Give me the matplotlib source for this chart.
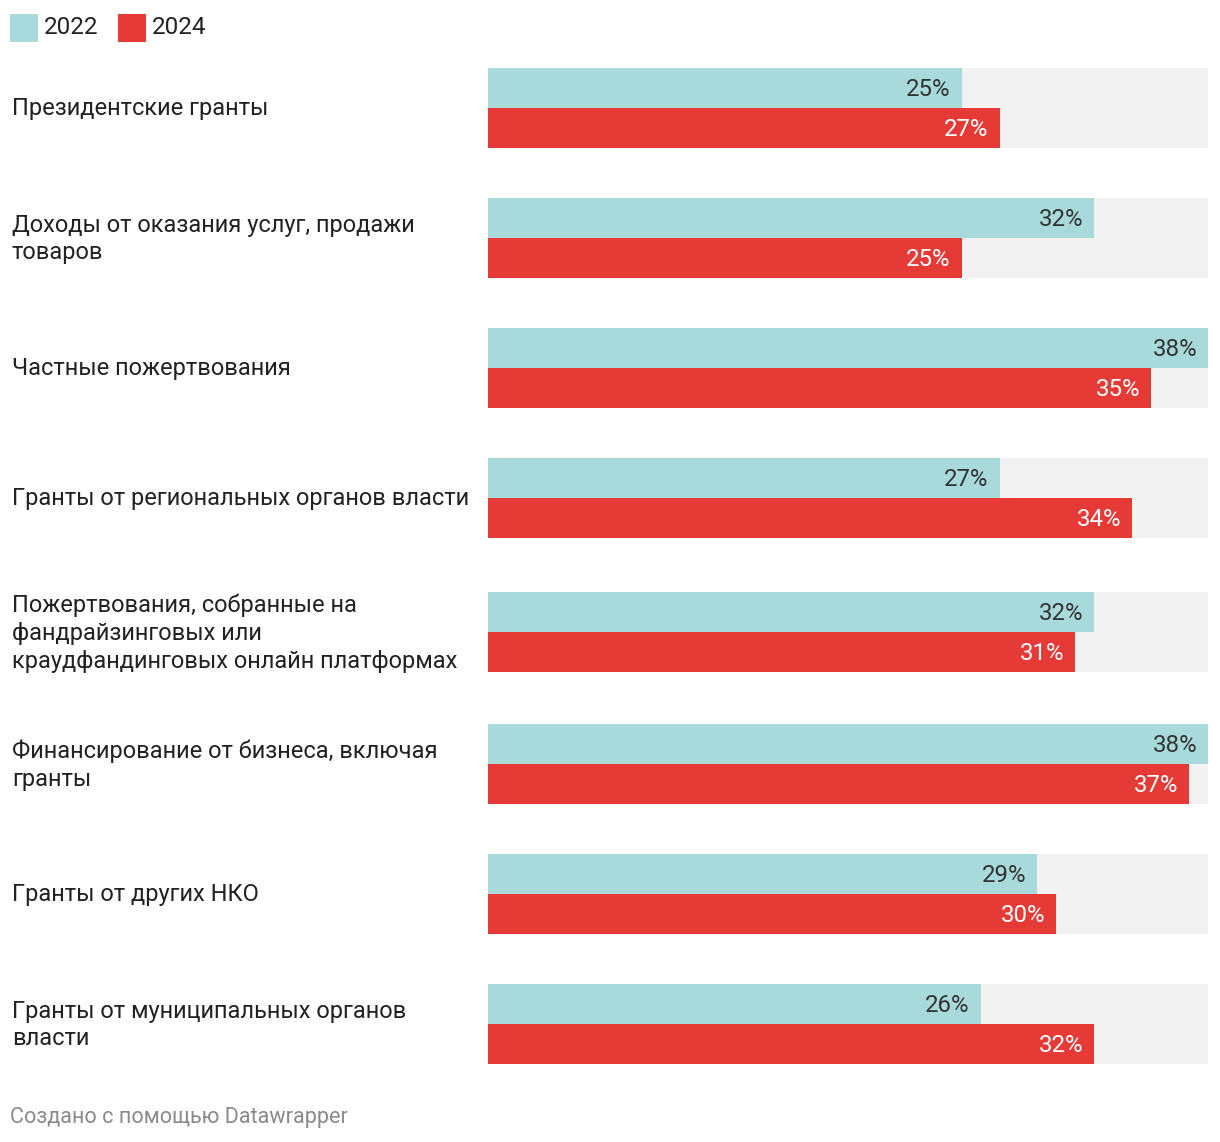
import matplotlib.pyplot as plt
from matplotlib.patches import Rectangle
from matplotlib.transforms import Affine2D

plt.rcParams['font.family'] = ['Roboto', 'DejaVu Sans']

categories = [
    "Президентские гранты",
    "Доходы от оказания услуг, продажи\nтоваров",
    "Частные пожертвования",
    "Гранты от региональных органов власти",
    "Пожертвования, собранные на\nфандрайзинговых или\nкраудфандинговых онлайн платформах",
    "Финансирование от бизнеса, включая\nгранты",
    "Гранты от других НКО",
    "Гранты от муниципальных органов\nвласти",
]
v2022 = [25, 32, 38, 27, 32, 38, 29, 26]
v2024 = [27, 25, 35, 34, 31, 37, 30, 32]
years = ["2022", "2024"]

c22 = '#a8dadc'
c24 = '#e63a36'
grey = '#f2f2f2'

W, H = 1220, 1142
fig = plt.figure(figsize=(W / 100, H / 100), dpi=100)
# pixel coordinates (origin top-left)
px = Affine2D().scale(1.0 / W, -1.0 / H).translate(0, 1) + fig.transFigure

x0, x1 = 488, 1208
vmax = max(max(v2022), max(v2024))
ax = fig.add_axes([x0 / W, 0, (x1 - x0) / W, 1])
ax.set_xlim(0, vmax)
ax.set_ylim(H, 0)
ax.axis('off')

bh = 40
tops = []
t = 68
for i, lab in enumerate(categories):
    tops.append(t)
    nl = lab.count('\n') + 1
    nxt = categories[i + 1].count('\n') + 1 if i + 1 < len(categories) else 1
    t += 130 + (4 if nxt == 3 else 0) + (2 if nl == 3 else 0)

fs = 17.0
fv = 17.3
pad = 0.58
for i, lab in enumerate(categories):
    top = tops[i]
    ax.barh(top + bh, vmax, height=2 * bh, color=grey, linewidth=0)
    ax.barh(top + bh / 2, v2022[i], height=bh, color=c22, linewidth=0)
    ax.barh(top + 1.5 * bh, v2024[i], height=bh, color=c24, linewidth=0)
    ax.text(v2022[i] - pad, top + bh / 2 + 1, f"{v2022[i]}%", ha='right', va='center',
            fontsize=fv, color='#333333')
    ax.text(v2024[i] - pad, top + 1.5 * bh + 1, f"{v2024[i]}%", ha='right', va='center',
            fontsize=fv, color='white')
    fig.text(12, top + bh + 1, lab, transform=px, ha='left', va='center',
             fontsize=fs, color='#222222', linespacing=1.27)

# legend
for j, (yr, col) in enumerate(zip(years, [c22, c24])):
    lx = 10 + 108 * j
    fig.patches.append(Rectangle((lx, 14), 28, 28, transform=px, color=col, linewidth=0))
    fig.text(lx + 34, 28, yr, transform=px, ha='left', va='center', fontsize=17.5, color='#222222')

fig.text(10, 1117, "Создано с помощью Datawrapper", transform=px, ha='left', va='center',
         fontsize=15.6, color='#8a8a8a')

fig.savefig('out.png', dpi=100, facecolor='white')
